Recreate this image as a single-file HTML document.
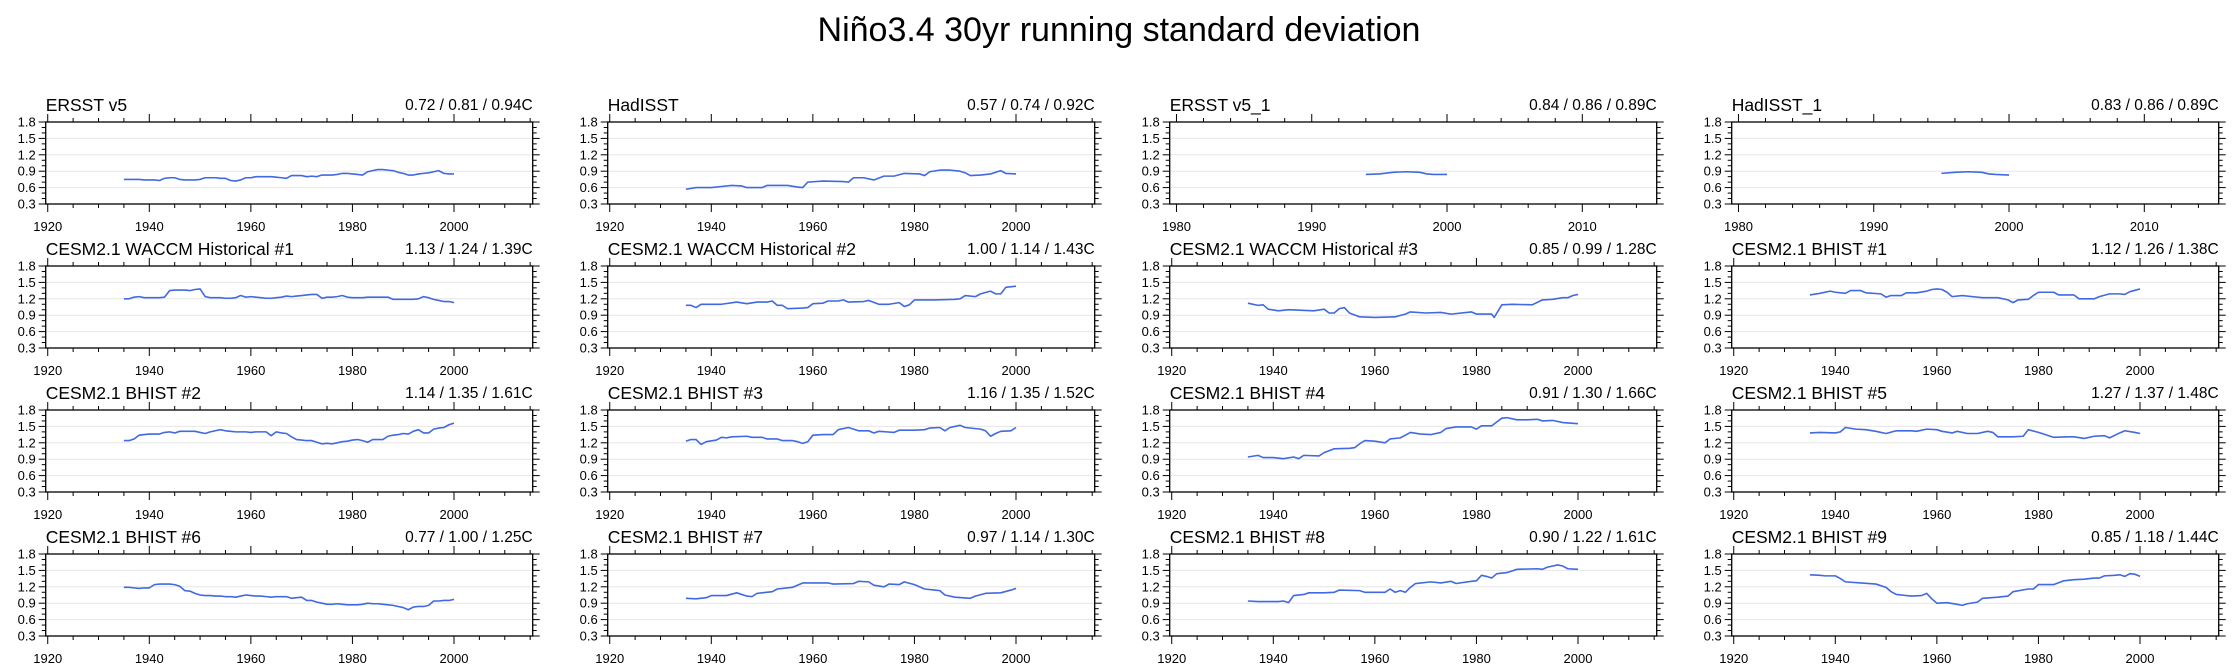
<!DOCTYPE html>
<html><head><meta charset="utf-8">
<style>
html,body{margin:0;padding:0;background:#fff;}
svg{display:block;font-family:"Liberation Sans",Arial,sans-serif;}
</style></head>
<body>
<svg id="chart" width="2238" height="672" viewBox="0 0 2238 672" xmlns="http://www.w3.org/2000/svg">
<text x="1119" y="41" text-anchor="middle" font-size="34" fill="#000">Niño3.4 30yr running standard deviation</text>
</svg>
<script>
// ---------- data ----------
const panelTitles = ["ERSST v5","HadISST","ERSST v5_1","HadISST_1",
 "CESM2.1 WACCM Historical #1","CESM2.1 WACCM Historical #2","CESM2.1 WACCM Historical #3","CESM2.1 BHIST #1",
 "CESM2.1 BHIST #2","CESM2.1 BHIST #3","CESM2.1 BHIST #4","CESM2.1 BHIST #5",
 "CESM2.1 BHIST #6","CESM2.1 BHIST #7","CESM2.1 BHIST #8","CESM2.1 BHIST #9"];
const panelStats = ["0.72 / 0.81 / 0.94C","0.57 / 0.74 / 0.92C","0.84 / 0.86 / 0.89C","0.83 / 0.86 / 0.89C",
 "1.13 / 1.24 / 1.39C","1.00 / 1.14 / 1.43C","0.85 / 0.99 / 1.28C","1.12 / 1.26 / 1.38C",
 "1.14 / 1.35 / 1.61C","1.16 / 1.35 / 1.52C","0.91 / 1.30 / 1.66C","1.27 / 1.37 / 1.48C",
 "0.77 / 1.00 / 1.25C","0.97 / 1.14 / 1.30C","0.90 / 1.22 / 1.61C","0.85 / 1.18 / 1.44C"];
const yTicks = [0.3,0.6,0.9,1.2,1.5,1.8];
const yTickLabels = ["0.3","0.6","0.9","1.2","1.5","1.8"];
const xTicksLong = [1920,1940,1960,1980,2000];
const xTicksShort = [1980,1990,2000,2010];

const yearsAnnual = [];
for (let y = 1935; y <= 2000; y++) yearsAnnual.push(y);

const ersstVals = [0.75,0.75,0.75,0.75,0.74,0.74,0.74,0.73,0.77,0.78,0.78,0.75,0.74,0.74,0.74,0.75,0.78,0.78,0.78,0.77,0.77,0.73,0.72,0.74,0.78,0.78,0.80,0.80,0.80,0.80,0.79,0.78,0.77,0.82,0.82,0.82,0.80,0.81,0.80,0.83,0.83,0.83,0.84,0.86,0.86,0.85,0.84,0.83,0.89,0.91,0.93,0.93,0.92,0.91,0.88,0.86,0.83,0.83,0.85,0.86,0.87,0.89,0.91,0.86,0.85,0.85];
const hadYears = [1935,1937,1940,1942,1944,1946,1947,1950,1951,1955,1957,1958,1959,1962,1966,1967,1968,1970,1972,1974,1976,1978,1981,1982,1983,1985,1987,1989,1990,1991,1993,1995,1997,1998,2000];
const hadVals  = [0.57,0.60,0.60,0.62,0.64,0.63,0.60,0.60,0.64,0.64,0.61,0.60,0.70,0.72,0.71,0.70,0.78,0.78,0.74,0.81,0.81,0.86,0.85,0.82,0.89,0.92,0.92,0.90,0.87,0.82,0.83,0.85,0.91,0.86,0.85];
const ersst1Years = [1994,1995,1996,1997,1998,1998.5,1999,2000];
const ersst1Vals  = [0.84,0.85,0.88,0.89,0.88,0.85,0.84,0.84];
const had1Years = [1995,1996,1997,1998,1998.5,1999,2000];
const had1Vals  = [0.86,0.88,0.89,0.88,0.85,0.84,0.83];
const waccm1Vals = [1.20,1.20,1.23,1.24,1.22,1.22,1.22,1.22,1.23,1.35,1.36,1.36,1.36,1.35,1.37,1.38,1.24,1.22,1.22,1.22,1.21,1.21,1.22,1.26,1.23,1.24,1.23,1.22,1.21,1.21,1.22,1.23,1.25,1.24,1.25,1.26,1.27,1.28,1.28,1.21,1.23,1.23,1.24,1.26,1.23,1.22,1.22,1.22,1.23,1.23,1.23,1.23,1.23,1.19,1.19,1.19,1.19,1.19,1.20,1.24,1.22,1.19,1.17,1.15,1.15,1.13];
const waccm2Years = [1935,1936,1937,1938,1942,1945,1947,1949,1951,1952,1953,1954,1955,1958,1959,1960,1962,1963,1965,1966,1967,1970,1971,1973,1975,1977,1978,1979,1980,1984,1988,1989,1990,1992,1993,1995,1996,1997,1998,2000];
const waccm2Vals  = [1.08,1.08,1.04,1.10,1.10,1.14,1.11,1.14,1.14,1.16,1.08,1.08,1.02,1.03,1.04,1.11,1.12,1.16,1.16,1.18,1.14,1.15,1.17,1.10,1.10,1.13,1.06,1.09,1.18,1.18,1.19,1.20,1.26,1.24,1.29,1.34,1.29,1.29,1.41,1.43];
const waccm3Years = [1935,1937,1938,1939,1941,1943,1948,1950,1951,1952,1953,1954,1955,1957,1960,1964,1966,1967,1970,1973,1975,1979,1980,1983,1983.5,1985,1987,1991,1993,1995,1997,1998,1999,2000];
const waccm3Vals  = [1.12,1.08,1.09,1.01,0.98,1.00,0.98,1.01,0.94,0.94,1.02,1.04,0.94,0.87,0.86,0.87,0.92,0.96,0.94,0.95,0.92,0.96,0.92,0.92,0.86,1.09,1.10,1.09,1.18,1.19,1.22,1.22,1.26,1.28];
const bhist1Years = [1935,1937,1939,1940,1942,1943,1945,1946,1949,1950,1951,1953,1954,1956,1958,1959,1960,1961,1962,1963,1965,1967,1969,1972,1974,1975,1976,1978,1979,1980,1983,1984,1987,1988,1991,1992,1994,1996,1997,1998,2000];
const bhist1Vals  = [1.27,1.30,1.34,1.32,1.30,1.35,1.35,1.31,1.29,1.23,1.26,1.26,1.31,1.31,1.34,1.37,1.38,1.37,1.32,1.24,1.26,1.24,1.22,1.22,1.18,1.13,1.18,1.19,1.26,1.32,1.32,1.27,1.27,1.20,1.20,1.24,1.29,1.29,1.28,1.33,1.38];
const bhist2Vals = [1.24,1.24,1.27,1.34,1.35,1.36,1.36,1.36,1.39,1.40,1.38,1.41,1.41,1.41,1.41,1.39,1.37,1.40,1.42,1.44,1.42,1.41,1.40,1.40,1.40,1.39,1.40,1.40,1.40,1.33,1.40,1.38,1.37,1.31,1.26,1.25,1.24,1.24,1.21,1.18,1.19,1.18,1.20,1.22,1.23,1.25,1.26,1.24,1.21,1.26,1.26,1.26,1.32,1.34,1.35,1.37,1.36,1.41,1.44,1.38,1.38,1.45,1.47,1.48,1.53,1.56];
const bhist3Years = [1935,1936,1937,1938,1939,1941,1942,1943,1944,1947,1948,1950,1951,1953,1954,1956,1957,1958,1959,1960,1962,1964,1965,1967,1969,1971,1972,1973,1976,1977,1980,1982,1983,1985,1986,1987,1989,1990,1993,1994,1995,1996,1997,1999,2000];
const bhist3Vals  = [1.23,1.26,1.26,1.17,1.22,1.25,1.30,1.29,1.31,1.32,1.30,1.30,1.27,1.27,1.24,1.24,1.22,1.19,1.22,1.34,1.35,1.35,1.44,1.48,1.42,1.42,1.38,1.41,1.39,1.43,1.43,1.44,1.47,1.48,1.42,1.48,1.52,1.48,1.45,1.42,1.32,1.37,1.41,1.42,1.48];
const bhist4Years = [1935,1937,1938,1940,1942,1944,1945,1946,1949,1950,1952,1955,1956,1957,1958,1960,1962,1963,1965,1966,1967,1969,1971,1973,1974,1976,1979,1980,1981,1983,1984,1985,1986,1988,1990,1992,1993,1995,1997,2000];
const bhist4Vals  = [0.94,0.97,0.93,0.93,0.91,0.94,0.91,0.97,0.96,1.02,1.09,1.10,1.11,1.18,1.24,1.23,1.20,1.27,1.29,1.34,1.39,1.36,1.35,1.39,1.46,1.49,1.49,1.45,1.51,1.51,1.58,1.65,1.66,1.62,1.62,1.63,1.60,1.61,1.57,1.55];
const bhist5Years = [1935,1937,1940,1941,1942,1944,1946,1948,1949,1950,1952,1955,1956,1958,1960,1961,1963,1964,1966,1968,1970,1971,1972,1975,1977,1978,1980,1981,1983,1986,1987,1989,1991,1993,1994,1996,1997,1999,2000];
const bhist5Vals  = [1.38,1.39,1.38,1.40,1.48,1.45,1.44,1.41,1.39,1.37,1.42,1.42,1.41,1.45,1.44,1.41,1.38,1.41,1.37,1.37,1.41,1.39,1.31,1.31,1.32,1.44,1.39,1.36,1.30,1.31,1.31,1.28,1.32,1.33,1.29,1.38,1.42,1.39,1.37];
const bhist6Vals = [1.19,1.19,1.18,1.17,1.18,1.18,1.24,1.25,1.25,1.25,1.24,1.21,1.13,1.12,1.08,1.05,1.04,1.04,1.03,1.03,1.02,1.02,1.01,1.03,1.05,1.04,1.03,1.03,1.02,1.01,1.02,1.02,1.02,0.99,1.00,1.01,0.95,0.95,0.92,0.90,0.88,0.88,0.89,0.88,0.87,0.87,0.87,0.88,0.90,0.89,0.89,0.88,0.87,0.86,0.84,0.82,0.78,0.83,0.84,0.84,0.86,0.94,0.94,0.95,0.95,0.97];
const bhist7Years = [1935,1937,1939,1940,1943,1945,1947,1948,1949,1952,1953,1956,1958,1961,1963,1964,1968,1969,1971,1972,1974,1975,1977,1978,1980,1982,1984,1985,1986,1988,1991,1992,1994,1997,1999,2000];
const bhist7Vals  = [0.99,0.98,1.00,1.04,1.04,1.09,1.03,1.02,1.08,1.11,1.16,1.19,1.27,1.27,1.27,1.25,1.26,1.30,1.29,1.23,1.20,1.25,1.24,1.29,1.24,1.16,1.14,1.13,1.05,1.01,0.99,1.03,1.08,1.09,1.14,1.17];
const bhist8Years = [1935,1937,1941,1942,1943,1944,1946,1947,1950,1952,1953,1957,1958,1962,1963,1964,1965,1966,1967,1968,1971,1973,1975,1976,1979,1980,1981,1982,1983,1984,1986,1987,1988,1992,1993,1994,1996,1997,1998,2000];
const bhist8Vals  = [0.94,0.93,0.93,0.94,0.91,1.04,1.06,1.09,1.09,1.10,1.14,1.13,1.10,1.10,1.16,1.10,1.13,1.10,1.19,1.26,1.29,1.27,1.30,1.26,1.30,1.31,1.41,1.39,1.36,1.44,1.46,1.49,1.52,1.53,1.52,1.56,1.60,1.58,1.53,1.52];
const bhist9Years = [1935,1937,1938,1940,1941,1942,1945,1948,1950,1951,1952,1955,1957,1958,1959,1960,1962,1964,1965,1966,1968,1969,1972,1974,1975,1978,1979,1980,1983,1985,1987,1989,1991,1992,1993,1995,1996,1997,1998,1999,2000];
const bhist9Vals  = [1.42,1.41,1.40,1.40,1.35,1.29,1.27,1.25,1.19,1.11,1.06,1.03,1.04,1.08,0.98,0.90,0.91,0.88,0.86,0.89,0.92,0.99,1.01,1.03,1.11,1.16,1.16,1.24,1.24,1.31,1.33,1.34,1.36,1.36,1.40,1.41,1.42,1.39,1.44,1.43,1.39];

const panelYears = [yearsAnnual,hadYears,ersst1Years,had1Years,
  yearsAnnual,waccm2Years,waccm3Years,bhist1Years,
  yearsAnnual,bhist3Years,bhist4Years,bhist5Years,
  yearsAnnual,bhist7Years,bhist8Years,bhist9Years];
const panelVals = [ersstVals,hadVals,ersst1Vals,had1Vals,
  waccm1Vals,waccm2Vals,waccm3Vals,bhist1Vals,
  bhist2Vals,bhist3Vals,bhist4Vals,bhist5Vals,
  bhist6Vals,bhist7Vals,bhist8Vals,bhist9Vals];

// ---------- drawing ----------
const NS = "http://www.w3.org/2000/svg";
const svg = document.getElementById("chart");
function mk(tag, attrs, parent) {
  const e = document.createElementNS(NS, tag);
  for (const k in attrs) e.setAttribute(k, attrs[k]);
  (parent || svg).appendChild(e);
  return e;
}
const PW = 487, PH = 82;
for (let i = 0; i < 16; i++) {
  const r = Math.floor(i / 4), c = i % 4;
  const L = 45.7 + c * 562, T = 122 + r * 144;
  const short = (r === 0 && c >= 2);
  const x0 = short ? 1979.5 : 1919.6, x1 = 2015.5;
  const xs = v => L + (v - x0) / (x1 - x0) * PW;
  const ys = v => T + PH - (v - 0.3) / 1.5 * PH;
  const g = mk("g", {});
  
  

  for (let k = 1; k < yTicks.length - 1; k++) {
    const gl = mk("line", {x1: L, x2: L + PW, y1: ys(yTicks[k]), y2: ys(yTicks[k]), stroke: "#e6e6e6", "stroke-width": 1}, g);
    
    
  }
  for (let v = 3; v <= 18; v++) {
    const val = v / 10, major = (v % 3 === 0);
    const len = major ? 7 : 4;
    const yy = ys(val);
    const t1 = mk("line", {x1: L - len, x2: L, y1: yy, y2: yy, stroke: "#000", "stroke-width": 1}, g);
    
    
    const t2 = mk("line", {x1: L + PW, x2: L + PW + len, y1: yy, y2: yy, stroke: "#000", "stroke-width": 1}, g);
    
    
  }
  yTicks.forEach((v, k) => {
    const tl = mk("text", {x: L - 10, y: ys(v) + 4.5, "text-anchor": "end", "font-size": 13, fill: "#000"}, g);
    tl.textContent = yTickLabels[k];
    
    
  });
  const minorStep = short ? 2 : 5, majorStep = short ? 10 : 20;
  const start = short ? 1980 : 1920;
  for (let yv = start; yv <= x1; yv += minorStep) {
    const major = ((yv - start) % majorStep === 0);
    const len = major ? 8 : 4;
    const xx = xs(yv);
    const b = mk("line", {x1: xx, x2: xx, y1: T + PH, y2: T + PH + len, stroke: "#000", "stroke-width": 1}, g);
    
    
    const tp = mk("line", {x1: xx, x2: xx, y1: T - len, y2: T, stroke: "#000", "stroke-width": 1}, g);
    
    
  }
  (short ? xTicksShort : xTicksLong).forEach(v => {
    const xl = mk("text", {x: xs(v), y: T + 109, "text-anchor": "middle", "font-size": 13, fill: "#000"}, g);
    xl.textContent = String(v);
    
    
  });
  const fr = mk("rect", {x: L, y: T, width: PW, height: PH, fill: "none", stroke: "#000", "stroke-width": 1.3}, g);
  
  
  const yrs = panelYears[i], vals = panelVals[i];
  const d = yrs.map((yv, k) => (k ? "L" : "M") + xs(yv).toFixed(2) + "," + ys(vals[k]).toFixed(2)).join(" ");
  const ln = mk("path", {d: d, fill: "none", stroke: "#4169e1", "stroke-width": 1.6, "stroke-linejoin": "round"}, g);
  
  
  const tt = mk("text", {x: L, y: T - 11, "font-size": 17.5, fill: "#000"}, g);
  tt.textContent = panelTitles[i];
  
  
  const st = mk("text", {x: L + PW, y: T - 12, "text-anchor": "end", "font-size": 15.5, fill: "#000"}, g);
  st.textContent = panelStats[i];
  
  
}
</script>
</body></html>
